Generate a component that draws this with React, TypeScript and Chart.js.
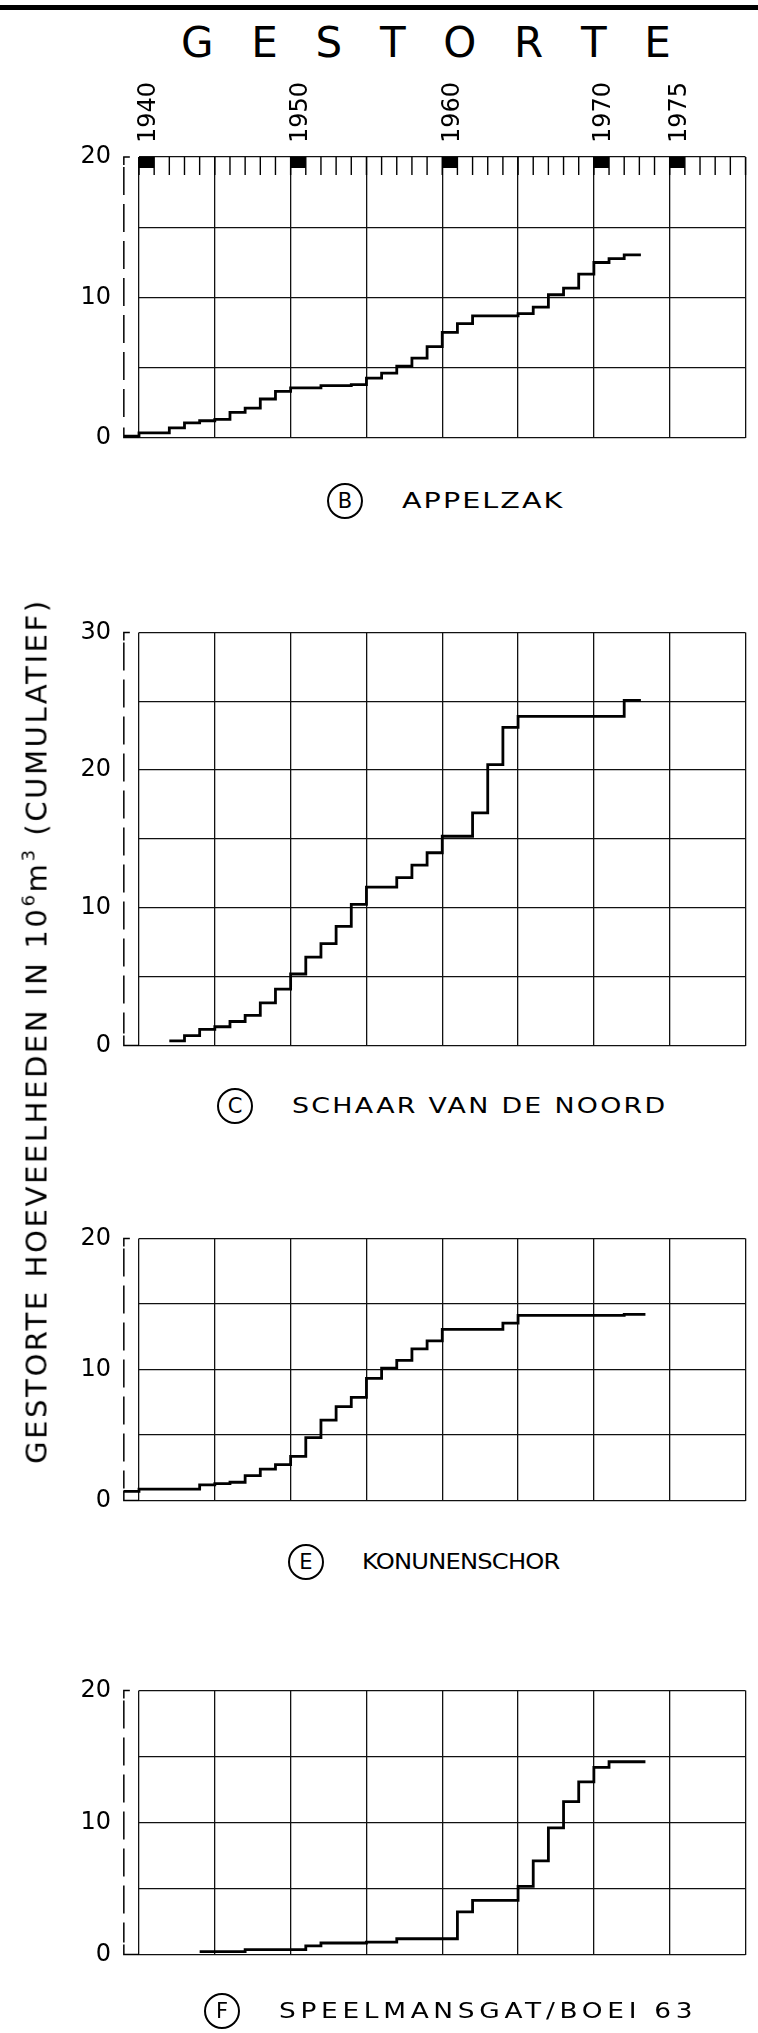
import React, { useEffect, useLayoutEffect, useRef } from 'react';
import { Chart, registerables } from 'chart.js';

Chart.register(...registerables);

const FONT = '"DejaVu Sans", "Liberation Sans", Arial, sans-serif';

// ---- axis definitions ----
const X_MIN = 1939.5;
const X_MAX = 1979.5;
const PRE_YEAR = 1938.5; // dashed "before 1940" column
const GRID_YEARS = [1939.5, 1944.5, 1949.5, 1954.5, 1959.5, 1964.5, 1969.5, 1974.5, 1979.5];
const YEAR_MARKS = [1940, 1950, 1960, 1970, 1975];
const TITLE_LETTERS = ['G', 'E', 'S', 'T', 'O', 'R', 'T', 'E'];

// ---- (B) APPELZAK : step start (year boundary) and cumulative value (10^6 m3) ----
const B_X = [1938.5, 1939.5, 1941.5, 1942.5, 1943.5, 1944.5, 1945.5, 1946.5, 1947.5, 1948.5,
  1949.5, 1951.5, 1953.5, 1954.5, 1955.5, 1956.5, 1957.5, 1958.5, 1959.5, 1960.5,
  1961.5, 1964.5, 1965.5, 1966.5, 1967.5, 1968.5, 1969.5, 1970.5, 1971.5];
const B_Y = [0.1, 0.33, 0.7, 1.05, 1.2, 1.3, 1.8, 2.1, 2.75, 3.3,
  3.55, 3.7, 3.78, 4.24, 4.6, 5.1, 5.67, 6.48, 7.5, 8.13,
  8.68, 8.84, 9.3, 10.18, 10.66, 11.65, 12.48, 12.75, 13.03];
const B_END = 1972.6;

// ---- (C) SCHAAR VAN DE NOORD ----
const C_X = [1941.5, 1942.5, 1943.5, 1944.5, 1945.5, 1946.5, 1947.5, 1948.5, 1949.5, 1950.5,
  1951.5, 1952.5, 1953.5, 1954.5, 1956.5, 1957.5, 1958.5, 1959.5, 1961.5, 1962.5,
  1963.5, 1964.5, 1971.5];
const C_Y = [0.34, 0.73, 1.18, 1.37, 1.75, 2.2, 3.1, 4.1, 5.2, 6.42,
  7.4, 8.66, 10.25, 11.5, 12.2, 13.1, 14.0, 15.2, 16.9, 20.4,
  23.1, 23.9, 25.07];
const C_END = 1972.6;

// ---- (E) KONIJNENSCHOR ----
const E_X = [1938.5, 1939.5, 1943.5, 1944.5, 1945.5, 1946.5, 1947.5, 1948.5, 1949.5, 1950.5,
  1951.5, 1952.5, 1953.5, 1954.5, 1955.5, 1956.5, 1957.5, 1958.5, 1959.5, 1963.5,
  1964.5, 1971.5];
const E_Y = [0.7, 0.88, 1.2, 1.3, 1.4, 1.9, 2.4, 2.74, 3.38, 4.8,
  6.14, 7.17, 7.87, 9.32, 10.1, 10.7, 11.57, 12.18, 13.06, 13.54,
  14.13, 14.2];
const E_END = 1972.9;

// ---- (F) SPEELMANSGAT/BOEI 63 ----
const F_X = [1943.5, 1946.5, 1950.5, 1951.5, 1954.5, 1956.5, 1960.5, 1961.5, 1964.5, 1965.5,
  1966.5, 1967.5, 1968.5, 1969.5, 1970.5];
const F_Y = [0.22, 0.37, 0.66, 0.88, 0.95, 1.2, 3.23, 4.1, 5.16, 7.1,
  9.6, 11.58, 13.08, 14.18, 14.6];
const F_END = 1972.9;

type PanelProps = {
  top: number;
  height: number;
  padTop: number;
  yMax: number;
  xs: number[];
  ys: number[];
  end: number;
  years?: boolean;
};

function StepPanel({ top, height, padTop, yMax, xs, ys, end, years }: PanelProps) {
  const ref = useRef<HTMLCanvasElement>(null);
  useEffect(() => {
    const pts = xs.map((x, i) => ({ x, y: ys[i] }));
    pts.push({ x: end, y: ys[ys.length - 1] });
    const yTicks: number[] = [];
    for (let v = 0; v <= yMax; v += 5) yTicks.push(v);

    const frame = {
      id: 'frame',
      afterDraw(chart: any) {
        const { ctx, chartArea: a } = chart;
        const x = chart.scales.x;
        const dx = x.getPixelForValue(PRE_YEAR);
        ctx.save();
        ctx.strokeStyle = '#000';
        ctx.lineWidth = 1.5;
        ctx.setLineDash([28, 9]);
        ctx.beginPath();
        ctx.moveTo(dx, a.top + 10);
        ctx.lineTo(dx, a.bottom - 12);
        ctx.stroke();
        ctx.setLineDash([]);
        ctx.beginPath();
        ctx.moveTo(dx + 6, a.top);
        ctx.lineTo(dx, a.top);
        ctx.lineTo(dx, a.top + 8);
        ctx.moveTo(dx, a.bottom - 10);
        ctx.lineTo(dx, a.bottom);
        ctx.lineTo(a.left, a.bottom);
        ctx.stroke();

        if (years) {
          // yearly ticks along the top edge
          ctx.lineWidth = 1.4;
          ctx.beginPath();
          for (let yv = X_MIN; yv <= X_MAX; yv += 1) {
            const px = x.getPixelForValue(yv);
            ctx.moveTo(px, a.top);
            ctx.lineTo(px, a.top + 18);
          }
          ctx.stroke();
          ctx.fillStyle = '#000';
          const fs = 24;
          ctx.font = `${fs}px ${FONT}`;
          ctx.textAlign = 'left';
          ctx.textBaseline = 'alphabetic';
          YEAR_MARKS.forEach((yr) => {
            const x0 = x.getPixelForValue(yr - 0.5);
            const x1 = x.getPixelForValue(yr + 0.5);
            ctx.fillRect(x0, a.top, x1 - x0, 11);
            const cx = x.getPixelForValue(yr);
            ctx.save();
            ctx.translate(cx, a.top - 14);
            ctx.rotate(-Math.PI / 2);
            ctx.fillText(String(yr), 0, 0.365 * fs);
            ctx.restore();
          });
        }
        ctx.restore();
      },
    };

    const chart = new Chart(ref.current!, {
      type: 'line',
      data: {
        datasets: [
          {
            data: pts,
            stepped: true,
            borderColor: '#000',
            borderWidth: 2.8,
            pointRadius: 0,
            fill: false,
            clip: false as any,
            borderJoinStyle: 'miter',
            borderCapStyle: 'butt',
          } as any,
        ],
      },
      options: {
        animation: false,
        responsive: false,
        maintainAspectRatio: false,
        events: [],
        layout: { padding: { left: 0, right: 12.5, top: padTop, bottom: 20 } },
        plugins: { legend: { display: false }, tooltip: { enabled: false }, title: { display: false } },
        scales: {
          x: {
            type: 'linear',
            min: X_MIN,
            max: X_MAX,
            afterBuildTicks: (s: any) => {
              s.ticks = GRID_YEARS.map((v) => ({ value: v }));
            },
            afterFit: (s: any) => {
              s.height = 0;
            },
            ticks: { display: false },
            grid: { color: '#111', lineWidth: 1.3, drawTicks: false },
            border: { display: false },
          },
          y: {
            type: 'linear',
            min: 0,
            max: yMax,
            afterBuildTicks: (s: any) => {
              s.ticks = yTicks.map((v) => ({ value: v }));
            },
            afterFit: (s: any) => {
              s.width = 139;
            },
            ticks: {
              autoSkip: false,
              padding: 28,
              color: '#000',
              font: { family: FONT, size: 24 },
              callback: (v: any) => (Number(v) % 10 === 0 ? String(v) : ''),
            },
            grid: { color: '#111', lineWidth: 1.3, drawTicks: false },
            border: { display: false },
          },
        },
      } as any,
      plugins: [frame],
    });
    return () => chart.destroy();
  }, []);
  return (
    <canvas
      ref={ref}
      width={758}
      height={height}
      style={{ position: 'absolute', left: 0, top, width: 758, height }}
    />
  );
}

function FitText({
  left,
  cy,
  cx,
  width,
  size,
  rotate,
  stretch = 1,
  children,
}: {
  left?: number;
  cy: number;
  cx?: number;
  width: number;
  size: number;
  rotate?: boolean;
  stretch?: number;
  children: React.ReactNode;
}) {
  const ref = useRef<HTMLDivElement>(null);
  useLayoutEffect(() => {
    const el = ref.current!;
    el.style.letterSpacing = '0px';
    const w = el.offsetWidth;
    const n = (el.textContent || '').length;
    el.style.letterSpacing = `${(width / stretch - w) / Math.max(1, n - 1)}px`;
  }, []);
  const common: React.CSSProperties = {
    position: 'absolute',
    fontFamily: FONT,
    fontSize: size,
    lineHeight: 1,
    whiteSpace: 'nowrap',
    color: '#000',
  };
  if (rotate) {
    return (
      <div style={{ position: 'absolute', left: cx, top: cy, width: 0, height: 0 }}>
        <div
          ref={ref}
          style={{
            ...common,
            left: 0,
            top: 0,
            transform: `translate(-50%, -50%) rotate(-90deg) scaleX(${stretch})`,
          }}
        >
          {children}
        </div>
      </div>
    );
  }
  return (
    <div
      ref={ref}
      style={{
        ...common,
        left,
        top: cy - 0.48 * size,
        transform: `scaleX(${stretch})`,
        transformOrigin: '0 50%',
      }}
    >
      {children}
    </div>
  );
}

function Caption({ letter, cx, cy, text, textLeft, textWidth, stretch }: {
  letter: string; cx: number; cy: number; text: string; textLeft: number; textWidth: number; stretch: number;
}) {
  const r = 18;
  return (
    <>
      <div
        style={{
          position: 'absolute',
          left: cx - r,
          top: cy - r,
          width: 2 * r,
          height: 2 * r,
          border: '2px solid #000',
          borderRadius: '50%',
          boxSizing: 'border-box',
          display: 'flex',
          alignItems: 'center',
          justifyContent: 'center',
          fontFamily: FONT,
          fontSize: 21,
          lineHeight: 1,
          color: '#000',
        }}
      >
        {letter}
      </div>
      <FitText left={textLeft} cy={cy} width={textWidth} size={22} stretch={stretch}>
        {text}
      </FitText>
    </>
  );
}

const sup: React.CSSProperties = { fontSize: 18, position: 'relative', top: -12 };

export default function App() {
  return (
    <div
      style={{
        position: 'absolute',
        left: 0,
        top: 0,
        width: 758,
        height: 2033,
        overflow: 'hidden',
        background: '#fff',
      }}
    >
      <div style={{ position: 'absolute', left: 0, top: 5, width: 758, height: 5, background: '#000' }} />
      <div
        style={{
          position: 'absolute',
          left: 181,
          top: 42.5 - 0.48 * 42,
          width: 490,
          display: 'flex',
          justifyContent: 'space-between',
          fontFamily: FONT,
          fontSize: 42,
          lineHeight: 1,
          color: '#000',
        }}
      >
        {TITLE_LETTERS.map((l, i) => (
          <span key={i}>{l}</span>
        ))}
      </div>

      <StepPanel top={62} height={418} padTop={95} yMax={20} xs={B_X} ys={B_Y} end={B_END} years />
      <StepPanel top={590} height={498} padTop={24} yMax={30} xs={C_X} ys={C_Y} end={C_END} />
      <StepPanel top={1196} height={347} padTop={24} yMax={20} xs={E_X} ys={E_Y} end={E_END} />
      <StepPanel top={1648} height={349} padTop={24} yMax={20} xs={F_X} ys={F_Y} end={F_END} />

      <FitText cx={37} cy={1031} width={863} size={29} rotate>
        GESTORTE HOEVEELHEDEN IN 10<span style={sup}>6</span>m<span style={sup}>3</span> (CUMULATIEF)
      </FitText>

      <Caption letter="B" cx={345} cy={501} text="APPELZAK" textLeft={402} textWidth={160} stretch={1.3} />
      <Caption letter="C" cx={235} cy={1106} text="SCHAAR VAN DE NOORD" textLeft={292} textWidth={373} stretch={1.22} />
      <Caption letter="E" cx={306} cy={1562} text="KONUNENSCHOR" textLeft={362} textWidth={198} stretch={1.1} />
      <Caption letter="F" cx={222} cy={2011} text="SPEELMANSGAT/BOEI 63" textLeft={279} textWidth={413} stretch={1.2} />
    </div>
  );
}
